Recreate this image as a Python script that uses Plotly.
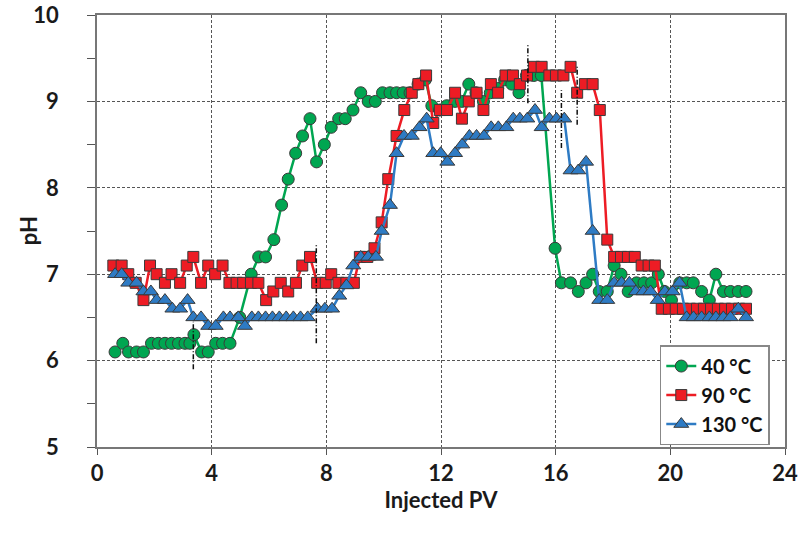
import plotly.graph_objects as go

# 40 °C series
x40 = [0.63, 0.9, 1.1, 1.38, 1.62, 1.9, 2.14, 2.37, 2.6, 2.84, 3.07, 3.24, 3.38, 3.65, 3.88,
       4.14, 4.38, 4.64, 4.98, 5.38, 5.64, 5.88, 6.17, 6.44, 6.67, 6.93, 7.17, 7.43, 7.66, 7.93,
       8.17, 8.43, 8.66, 8.93, 9.2, 9.46, 9.71, 9.96, 10.22, 10.45, 10.68, 10.92, 11.2, 11.45,
       11.68, 11.95, 12.2, 12.49, 12.72, 12.97, 13.22, 13.48, 13.72, 13.98, 14.22, 14.47, 14.72,
       14.98, 15.24, 15.5, 15.98, 16.2, 16.52, 16.79, 17.06, 17.29, 17.52, 17.8, 18.04, 18.28,
       18.53, 18.82, 19.08, 19.35, 19.58, 19.8, 20.04, 20.33, 20.57, 20.8, 21.09, 21.36, 21.59,
       21.85, 22.1, 22.37, 22.64]
y40 = [6.1, 6.2, 6.1, 6.1, 6.1, 6.2, 6.2, 6.2, 6.2, 6.2, 6.2, 6.2, 6.3, 6.1, 6.1,
       6.2, 6.2, 6.2, 6.5, 7.0, 7.2, 7.2, 7.4, 7.8, 8.1, 8.4, 8.6, 8.8, 8.3, 8.5,
       8.7, 8.8, 8.8, 8.9, 9.1, 9.0, 9.0, 9.1, 9.1, 9.1, 9.1, 9.1, 9.2, 9.25,
       8.95, 8.9, 8.95, 9.0, 9.0, 9.2, 9.1, 9.0, 9.1, 9.15, 9.25, 9.2, 9.1,
       9.3, 9.3, 9.3, 7.3, 6.9, 6.9, 6.8, 6.9, 7.0, 6.8, 6.8, 7.1, 7.0,
       6.8, 6.9, 6.9, 6.9, 7.0, 6.8, 6.7, 6.9, 6.9, 6.9, 6.8, 6.7, 7.0,
       6.8, 6.8, 6.8, 6.8]

# 90 °C series
x90 = [0.57, 0.86, 1.09, 1.35, 1.62, 1.85, 2.08, 2.37, 2.6, 2.9, 3.13, 3.36, 3.63, 3.88, 4.12,
       4.38, 4.62, 4.87, 5.1, 5.37, 5.63, 5.9, 6.15, 6.41, 6.67, 6.94, 7.16, 7.43, 7.68, 7.98,
       8.17, 8.42, 8.7, 8.96, 9.17, 9.43, 9.68, 9.93, 10.16, 10.45, 10.72, 10.98, 11.21, 11.48,
       11.73, 11.96, 12.21, 12.49, 12.73, 12.97, 13.24, 13.48, 13.74, 13.99, 14.25, 14.51, 14.75,
       15.0, 15.24, 15.51, 15.78, 16.01, 16.27, 16.52, 16.75, 17.02, 17.29, 17.54, 17.8, 18.04,
       18.28, 18.52, 18.76, 19.0, 19.24, 19.46, 19.7, 19.95, 20.19, 20.44, 20.68, 20.93, 21.17,
       21.42, 21.66, 21.91, 22.15, 22.4, 22.64]
y90 = [7.1, 7.1, 7.0, 6.9, 6.7, 7.1, 7.0, 6.9, 7.0, 6.9, 7.1, 7.2, 6.9, 7.1, 7.0,
       7.1, 6.9, 6.9, 6.9, 6.9, 6.9, 6.7, 6.8, 6.9, 6.8, 6.9, 7.1, 7.2, 6.9, 6.9,
       7.0, 6.9, 6.9, 6.9, 7.2, 7.2, 7.3, 7.6, 8.1, 8.6, 8.9, 9.1, 9.2, 9.3,
       8.75, 8.9, 8.9, 9.1, 8.8, 9.0, 9.1, 8.9, 9.2, 9.1, 9.3, 9.3, 9.2,
       9.3, 9.4, 9.4, 9.3, 9.3, 9.3, 9.4, 9.1, 9.2, 9.2, 8.9, 7.4, 7.2,
       7.2, 7.2, 7.2, 7.1, 7.1, 7.1, 6.6, 6.6, 6.6, 6.6, 6.6, 6.6, 6.6,
       6.6, 6.6, 6.6, 6.6, 6.6, 6.6]

# 130 °C series
x130 = [0.63, 0.86, 1.09, 1.38, 1.62, 1.88, 2.08, 2.37, 2.63, 2.9, 3.16, 3.36, 3.63, 3.88, 4.14,
        4.41, 4.64, 4.93, 5.16, 5.4, 5.63, 5.88, 6.12, 6.36, 6.6, 6.85, 7.1, 7.35, 7.69, 7.95,
        8.2, 8.45, 8.7, 8.94, 9.2, 9.46, 9.73, 9.93, 10.22, 10.45, 10.71, 10.98, 11.25, 11.5,
        11.73, 11.99, 12.22, 12.49, 12.74, 12.99, 13.24, 13.5, 13.75, 14.0, 14.28, 14.52, 14.75,
        15.01, 15.28, 15.51, 15.78, 16.03, 16.3, 16.52, 16.79, 17.06, 17.29, 17.52, 17.8, 18.04,
        18.3, 18.57, 18.8, 19.06, 19.31, 19.56, 19.81, 20.08, 20.32, 20.57, 20.81, 21.09, 21.36,
        21.59, 21.85, 22.1, 22.37, 22.64]
y130 = [7.0, 7.0, 6.9, 6.9, 6.8, 6.8, 6.7, 6.7, 6.6, 6.6, 6.7, 6.5, 6.5, 6.4, 6.4,
        6.5, 6.5, 6.5, 6.4, 6.5, 6.5, 6.5, 6.5, 6.5, 6.5, 6.5, 6.5, 6.5, 6.6, 6.6,
        6.6, 6.75, 6.87, 7.1, 7.2, 7.2, 7.2, 7.5, 7.8, 8.4, 8.6, 8.6, 8.7, 8.8,
        8.4, 8.4, 8.3, 8.4, 8.5, 8.6, 8.6, 8.6, 8.7, 8.7, 8.7, 8.8, 8.8,
        8.8, 8.9, 8.7, 8.8, 8.8, 8.8, 8.2, 8.2, 8.3, 7.5, 6.7, 6.7, 6.9,
        6.9, 6.9, 6.8, 6.8, 6.8, 6.7, 6.8, 6.8, 6.9, 6.5, 6.5, 6.5, 6.5,
        6.5, 6.5, 6.5, 6.6, 6.5]

# dashed black error-bar like marks: (x, y_low, y_high)
bars_x = [3.36, 7.65, 15.03, 16.2, 16.75]
bars_lo = [5.9, 6.2, 8.98, 8.46, 8.73]
bars_hi = [6.45, 7.35, 9.65, 9.13, 9.4]

x_ticks = [0, 4, 8, 12, 16, 20, 24]
y_ticks = [5, 6, 7, 8, 9, 10]

FONT = "Lato, Roboto, Arial, sans-serif"
OUT = "#3a3a3a"

fig = go.Figure()

series = [
    ("<b>40 °C</b>", x40, y40, "#00A651", "circle", 12),
    ("<b>90 °C</b>", x90, y90, "#ED1C24", "square", 11),
    ("<b>130 °C</b>", x130, y130, "#2E7BC4", "triangle-up", 13),
]
for name, xs, ys, col, sym, sz in series:
    fig.add_trace(go.Scatter(
        x=xs, y=ys, name=name, mode="lines+markers",
        line=dict(color=col, width=2.5),
        marker=dict(symbol=sym, size=sz, color=col, line=dict(color=OUT, width=1)),
    ))

ex, ey = [], []
for bx, lo, hi in zip(bars_x, bars_lo, bars_hi):
    ex += [bx, bx, None]
    ey += [lo, hi, None]
fig.add_trace(go.Scatter(x=ex, y=ey, mode="lines", showlegend=False,
                         line=dict(color="#111111", width=1.5, dash="5px,2px,1px,2px"),
                         hoverinfo="skip"))

fig.update_layout(
    width=803, height=540,
    margin=dict(l=97, r=18, t=15, b=93, autoexpand=False),
    paper_bgcolor="white", plot_bgcolor="white",
    font=dict(family=FONT, size=22, color="#1a1a1a"),
    showlegend=True,
    legend=dict(x=0.818, y=0.236, xanchor="left", yanchor="top",
                bgcolor="white", bordercolor="#888888", borderwidth=1.5,
                font=dict(family=FONT, size=20, color="#111111"),
                itemwidth=30, tracegroupgap=0),
    annotations=[dict(text="<b>pH</b>", xref="paper", yref="paper",
                      x=-0.1, y=0.5, xanchor="center", yanchor="middle",
                      textangle=-90, showarrow=False,
                      font=dict(family=FONT, size=22, color="#1a1a1a"))],
)
fig.update_xaxes(
    range=[0, 24], tickvals=x_ticks, ticktext=[f"<b>{v}</b>" for v in x_ticks],
    showgrid=True, gridcolor="#555555", griddash="3px,2px", gridwidth=1,
    showline=True, linecolor="#777777", linewidth=1.5, mirror=True,
    ticks="outside", ticklen=6, tickcolor="#555555",
    ticklabelstandoff=0, zeroline=False, automargin=False,
    title=dict(text="<b>Injected PV</b>", font=dict(size=22), standoff=3),
)
fig.update_yaxes(
    range=[5, 10], tickvals=y_ticks, ticktext=[f"<b>{v}</b>" for v in y_ticks],
    showgrid=True, gridcolor="#555555", griddash="3px,2px", gridwidth=1,
    showline=True, linecolor="#777777", linewidth=1.5, mirror=True,
    ticks="outside", ticklen=8, tickcolor="#555555",
    minor=dict(dtick=0.5, ticks="outside", ticklen=8, tickcolor="#555555", showgrid=False),
    ticklabelstandoff=24, zeroline=False, automargin=False,
)

fig.write_html("out.html")
